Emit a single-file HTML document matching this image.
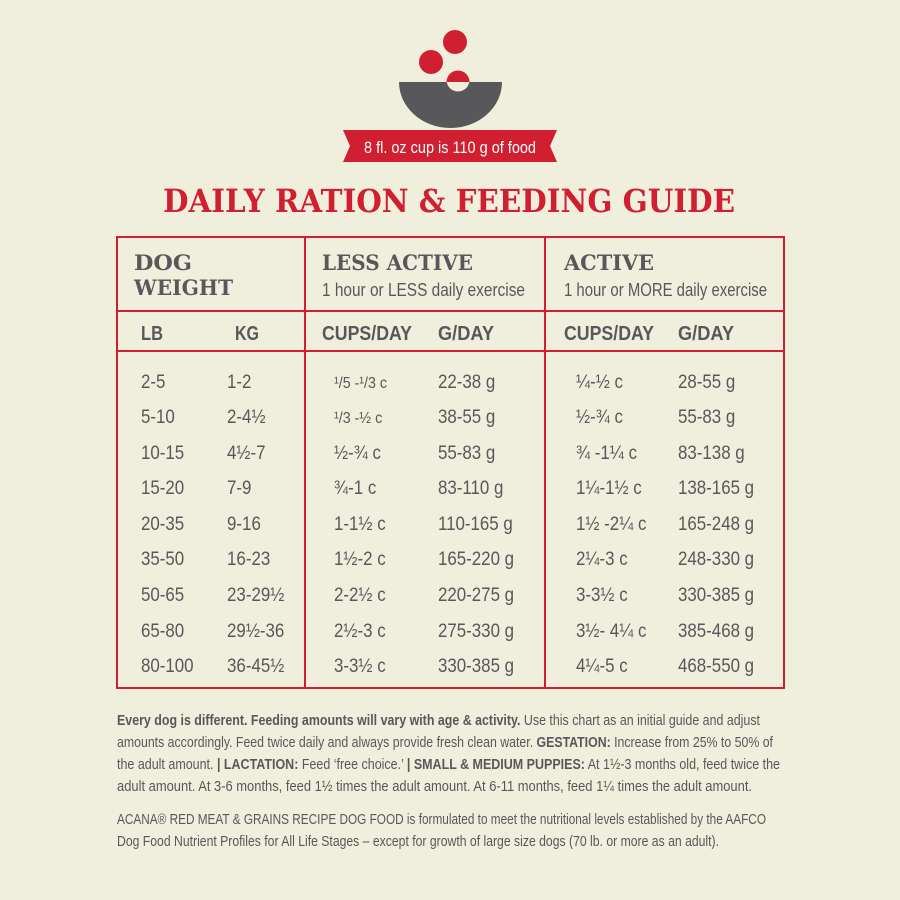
<!DOCTYPE html>
<html><head><meta charset="utf-8"><style>
html,body{margin:0;padding:0;background:#f0eedd;}
svg{display:block}
.c{font-family:"Liberation Sans Narrow","Liberation Sans",sans-serif;fill:#58585a;}
.s{font-family:"DejaVu Serif","Liberation Serif",serif;font-weight:bold;}
</style></head><body>
<svg width="900" height="900" viewBox="0 0 900 900" xmlns="http://www.w3.org/2000/svg">
<rect width="900" height="900" fill="#f0eedd"/>
<circle cx="455" cy="42" r="12" fill="#cf1f30"/>
<circle cx="431" cy="62" r="12" fill="#cf1f30"/>
<path d="M399 82 H502 A51.5 46 0 0 1 399 82 Z" fill="#58585a"/>
<circle cx="458" cy="80" r="11.5" fill="#f0eedd"/>
<path d="M446.5 82 A11.5 11.5 0 0 1 469.5 82 Z" fill="#cf1f30"/>
<polygon points="343,130 557,130 550,146 557,162 343,162 350,146" fill="#cf1f30"/>
<text x="450" y="153" text-anchor="middle" class="c" style="fill:#fff" font-size="17" textLength="172" lengthAdjust="spacingAndGlyphs">8 fl. oz cup is 110 g of food</text>
<text x="449" y="212" text-anchor="middle" class="s" fill="#cf1f30" font-size="32" textLength="572" lengthAdjust="spacingAndGlyphs">DAILY RATION &amp; FEEDING GUIDE</text>
<g stroke="#cf1f30" stroke-width="2" fill="none">
<rect x="117" y="237" width="667" height="451"/>
<line x1="305" y1="237" x2="305" y2="688"/>
<line x1="545" y1="237" x2="545" y2="688"/>
<line x1="117" y1="311" x2="784" y2="311"/>
<line x1="117" y1="351" x2="784" y2="351"/>
</g>
<g class="s" fill="#58585a" font-size="21">
<text x="134" y="270" textLength="58" lengthAdjust="spacingAndGlyphs">DOG</text>
<text x="134" y="295" textLength="99" lengthAdjust="spacingAndGlyphs">WEIGHT</text>
<text x="322" y="270" textLength="151" lengthAdjust="spacingAndGlyphs">LESS ACTIVE</text>
<text x="564" y="270" textLength="90" lengthAdjust="spacingAndGlyphs">ACTIVE</text>
</g>
<g class="c" font-size="18">
<text x="322" y="296" textLength="203" lengthAdjust="spacingAndGlyphs">1 hour or LESS daily exercise</text>
<text x="564" y="296" textLength="203" lengthAdjust="spacingAndGlyphs">1 hour or MORE daily exercise</text>
</g>
<g class="c" font-size="20" font-weight="bold">
<text x="141" y="340" textLength="22" lengthAdjust="spacingAndGlyphs">LB</text>
<text x="235" y="340" textLength="24" lengthAdjust="spacingAndGlyphs">KG</text>
<text x="322" y="340" textLength="90" lengthAdjust="spacingAndGlyphs">CUPS/DAY</text>
<text x="438" y="340" textLength="56" lengthAdjust="spacingAndGlyphs">G/DAY</text>
<text x="564" y="340" textLength="90" lengthAdjust="spacingAndGlyphs">CUPS/DAY</text>
<text x="678" y="340" textLength="56" lengthAdjust="spacingAndGlyphs">G/DAY</text>
</g>
<g class="c" font-size="19" transform="scale(0.89,1)">
<text x="158.4" y="388">2-5</text><text x="255.1" y="388">1-2</text><text x="375.3" y="388" font-size="16">¹/5 -¹/3 c</text><text x="492.1" y="388">22-38 g</text><text x="647.2" y="388">¼-½ c</text><text x="761.8" y="388">28-55 g</text>
<text x="158.4" y="423">5-10</text><text x="255.1" y="423">2-4½</text><text x="375.3" y="423" font-size="16">¹/3 -½ c</text><text x="492.1" y="423">38-55 g</text><text x="647.2" y="423">½-¾ c</text><text x="761.8" y="423">55-83 g</text>
<text x="158.4" y="459">10-15</text><text x="255.1" y="459">4½-7</text><text x="375.3" y="459">½-¾ c</text><text x="492.1" y="459">55-83 g</text><text x="647.2" y="459">¾ -1¼ c</text><text x="761.8" y="459">83-138 g</text>
<text x="158.4" y="494">15-20</text><text x="255.1" y="494">7-9</text><text x="375.3" y="494">¾-1 c</text><text x="492.1" y="494">83-110 g</text><text x="647.2" y="494">1¼-1½ c</text><text x="761.8" y="494">138-165 g</text>
<text x="158.4" y="530">20-35</text><text x="255.1" y="530">9-16</text><text x="375.3" y="530">1-1½ c</text><text x="492.1" y="530">110-165 g</text><text x="647.2" y="530">1½ -2¼ c</text><text x="761.8" y="530">165-248 g</text>
<text x="158.4" y="565">35-50</text><text x="255.1" y="565">16-23</text><text x="375.3" y="565">1½-2 c</text><text x="492.1" y="565">165-220 g</text><text x="647.2" y="565">2¼-3 c</text><text x="761.8" y="565">248-330 g</text>
<text x="158.4" y="601">50-65</text><text x="255.1" y="601">23-29½</text><text x="375.3" y="601">2-2½ c</text><text x="492.1" y="601">220-275 g</text><text x="647.2" y="601">3-3½ c</text><text x="761.8" y="601">330-385 g</text>
<text x="158.4" y="637">65-80</text><text x="255.1" y="637">29½-36</text><text x="375.3" y="637">2½-3 c</text><text x="492.1" y="637">275-330 g</text><text x="647.2" y="637">3½- 4¼ c</text><text x="761.8" y="637">385-468 g</text>
<text x="158.4" y="672">80-100</text><text x="255.1" y="672">36-45½</text><text x="375.3" y="672">3-3½ c</text><text x="492.1" y="672">330-385 g</text><text x="647.2" y="672">4¼-5 c</text><text x="761.8" y="672">468-550 g</text>
</g>
<g class="c" font-size="14.5">
<text x="117" y="725" textLength="643" lengthAdjust="spacingAndGlyphs"><tspan font-weight="bold">Every dog is different. Feeding amounts will vary with age &amp; activity.</tspan> Use this chart as an initial guide and adjust</text>
<text x="117" y="747" textLength="656" lengthAdjust="spacingAndGlyphs">amounts accordingly. Feed twice daily and always provide fresh clean water. <tspan font-weight="bold">GESTATION:</tspan> Increase from 25% to 50% of</text>
<text x="117" y="769" textLength="663" lengthAdjust="spacingAndGlyphs">the adult amount. <tspan font-weight="bold">| LACTATION:</tspan> Feed ‘free choice.’ <tspan font-weight="bold">| SMALL &amp; MEDIUM PUPPIES:</tspan> At 1½-3 months old, feed twice the</text>
<text x="117" y="791" textLength="635" lengthAdjust="spacingAndGlyphs">adult amount. At 3-6 months, feed 1½ times the adult amount. At 6-11 months, feed 1¼ times the adult amount.</text>
<text x="117" y="824" textLength="649" lengthAdjust="spacingAndGlyphs">ACANA® RED MEAT &amp; GRAINS RECIPE DOG FOOD is formulated to meet the nutritional levels established by the AAFCO</text>
<text x="117" y="846" textLength="602" lengthAdjust="spacingAndGlyphs">Dog Food Nutrient Profiles for All Life Stages – except for growth of large size dogs (70 lb. or more as an adult).</text>
</g>
</svg>
</body></html>
